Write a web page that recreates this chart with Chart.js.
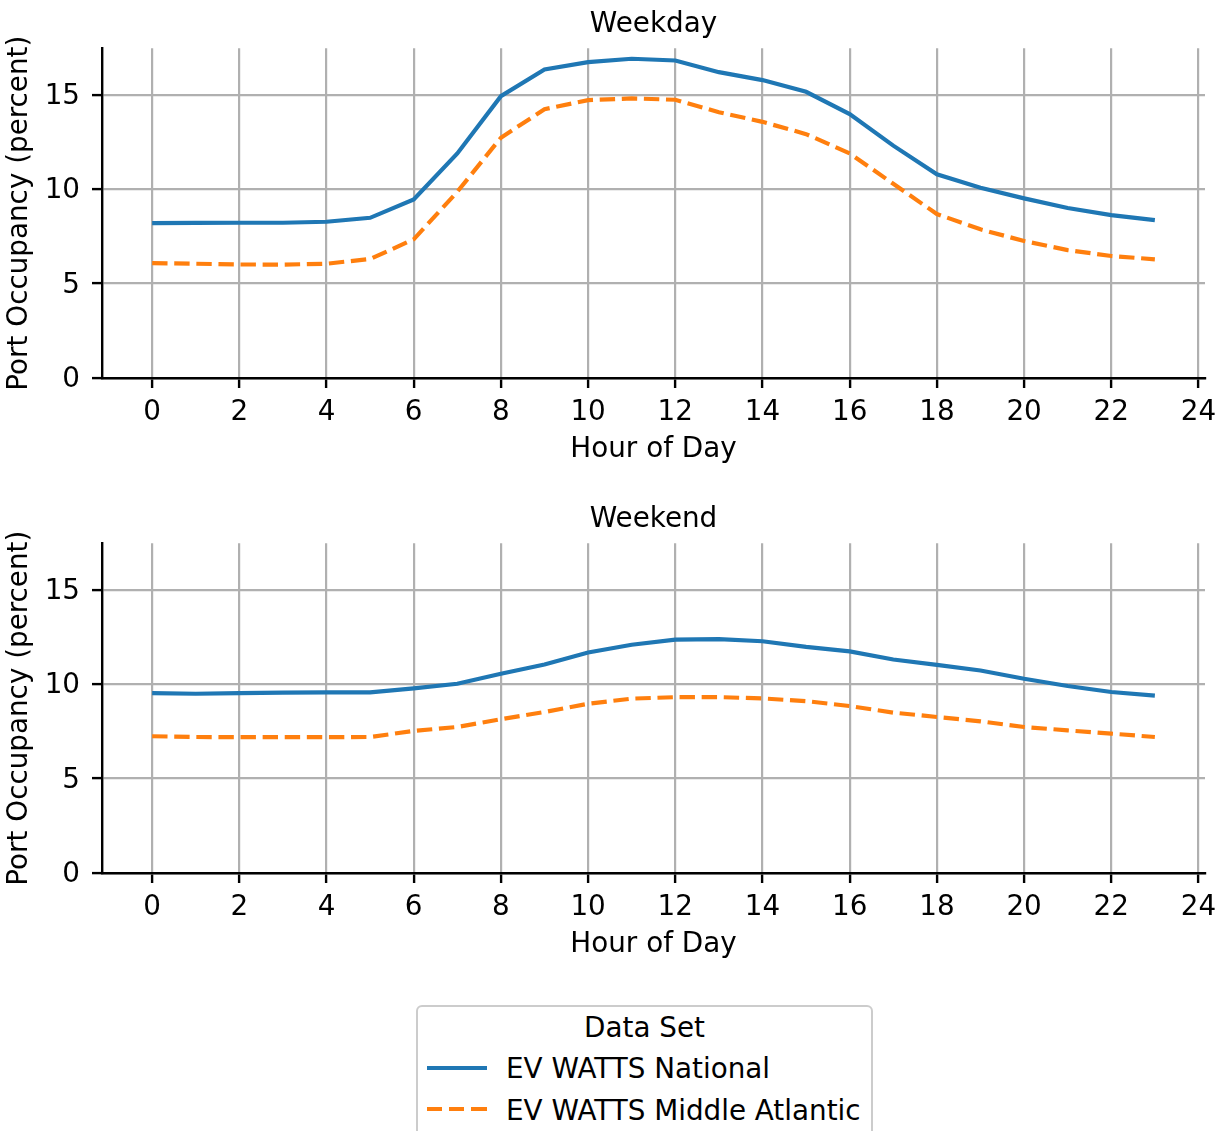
<!DOCTYPE html>
<html>
<head>
<meta charset="utf-8">
<script src="https://cdn.jsdelivr.net/npm/chart.js@4"></script>
<style>
  html, body { margin: 0; padding: 0; background: #fff; overflow: hidden; }
  #page { position: relative; width: 1228px; height: 1131px; overflow: hidden; font-family: "DejaVu Sans", sans-serif; }
  canvas { position: absolute; left: 0; }
  #legend { position: absolute; left: 416px; top: 1005px; width: 453px; height: 160px;
            border: 2px solid #cccccc; border-radius: 6px; background: #fff; box-sizing: content-box; }
  .lt { position: absolute; font-size: 27.8px; line-height: 34px; color: #000; white-space: nowrap; }
  .sample { position: absolute; height: 0; width: 60px; }
</style>
</head>
<body>
<div id="page">
  <canvas id="c1" width="1228" height="495" style="top:0px"></canvas>
  <canvas id="c2" width="1228" height="495" style="top:495px"></canvas>
  <div id="legend"></div>
</div>
<script>
// ---- data ----
const hours = [0,1,2,3,4,5,6,7,8,9,10,11,12,13,14,15,16,17,18,19,20,21,22,23];
const xTicks = [0,2,4,6,8,10,12,14,16,18,20,22,24];
const yTicks = [0,5,10,15];
const seriesNames = ['EV WATTS National', 'EV WATTS Middle Atlantic'];
const panelTitles = ['Weekday', 'Weekend'];
const weekdayNational = [8.20,8.21,8.22,8.22,8.27,8.48,9.45,11.89,14.92,16.33,16.72,16.90,16.81,16.19,15.77,15.15,13.97,12.30,10.78,10.07,9.51,9.00,8.62,8.36];
const weekdayMidAtl   = [6.08,6.05,6.01,6.00,6.05,6.30,7.34,9.86,12.72,14.23,14.71,14.80,14.73,14.07,13.56,12.91,11.89,10.28,8.68,7.87,7.25,6.77,6.46,6.28];
const weekendNational = [9.52,9.49,9.52,9.55,9.56,9.56,9.77,10.02,10.55,11.04,11.67,12.08,12.35,12.38,12.27,11.97,11.73,11.30,11.02,10.72,10.28,9.90,9.58,9.39];
const weekendMidAtl   = [7.24,7.20,7.19,7.19,7.19,7.20,7.52,7.73,8.14,8.52,8.96,9.23,9.31,9.31,9.24,9.10,8.84,8.49,8.26,8.03,7.73,7.55,7.38,7.20];

const BLUE = '#1f77b4', ORANGE = '#ff7f0e';
const FONT = { family: 'DejaVu Sans', size: 27.8, lineHeight: 1.2, weight: 'normal' };
const LW = 4.17;
const DASH = [15.4, 6.7];

function pts(vals) { return hours.map((h, i) => ({ x: h, y: vals[i] })); }

function makeChart(id, title, nat, mid) {
  const gridCommon = { color: '#b0b0b0', lineWidth: 2.2, tickColor: '#000', tickLength: 10, tickWidth: 2.4, drawTicks: true };
  return new Chart(document.getElementById(id), {
    type: 'line',
    data: {
      datasets: [
        { label: seriesNames[0], data: pts(nat), borderColor: BLUE, backgroundColor: BLUE, borderWidth: LW, pointRadius: 0, tension: 0, fill: false },
        { label: seriesNames[1], data: pts(mid), borderColor: ORANGE, backgroundColor: ORANGE, borderWidth: LW, borderDash: DASH, pointRadius: 0, tension: 0, fill: false }
      ]
    },
    options: {
      responsive: false,
      animation: false,
      devicePixelRatio: 1,
      layout: { padding: { left: 0, right: 23, top: 0, bottom: 0 } },
      plugins: {
        legend: { display: false },
        tooltip: { enabled: false },
        title: { display: true, text: title, color: '#000', font: FONT, padding: { top: 8, bottom: 7 }, fullSize: false }
      },
      scales: {
        x: {
          type: 'linear', min: -1.15, max: 24.15,
          afterBuildTicks: s => { s.ticks = xTicks.map(v => ({ value: v })); },
          afterFit: s => { s.height = 117; },
          ticks: { color: '#000', font: FONT, padding: 8, maxRotation: 0, autoSkip: false, callback: v => String(v) },
          grid: gridCommon,
          border: { display: true, color: '#000', width: 2.4 },
          title: { display: true, text: 'Hour of Day', color: '#000', font: FONT, padding: { top: 0, bottom: 29 } }
        },
        y: {
          type: 'linear', min: 0, max: 17.45,
          afterBuildTicks: s => { s.ticks = yTicks.map(v => ({ value: v })); },
          afterFit: s => { s.width = 102; },
          ticks: { color: '#000', font: FONT, padding: 12, labelOffset: 2, callback: v => String(v) },
          grid: gridCommon,
          border: { display: true, color: '#000', width: 2.4 },
          title: { display: true, text: 'Port Occupancy (percent)', color: '#000', font: FONT, padding: { top: 3, bottom: 0 } }
        }
      }
    }
  });
}

makeChart('c1', panelTitles[0], weekdayNational, weekdayMidAtl);
makeChart('c2', panelTitles[1], weekendNational, weekendMidAtl);

// ---- legend (HTML, real text) ----
const legend = document.getElementById('legend');
function addText(txt, left, top, center) {
  const s = document.createElement('div');
  s.className = 'lt';
  s.textContent = txt;
  s.style.top = top + 'px';
  if (center) { s.style.left = '0'; s.style.width = '100%'; s.style.textAlign = 'center'; }
  else s.style.left = left + 'px';
  legend.appendChild(s);
}
function addSample(color, dashed, top) {
  const d = document.createElement('div');
  d.className = 'sample';
  d.style.left = '9px';
  d.style.top = (top - 2) + 'px';
  d.style.height = LW + 'px';
  if (dashed) {
    d.style.backgroundImage = `repeating-linear-gradient(to right, ${color} 0 ${DASH[0]}px, transparent ${DASH[0]}px ${DASH[0] + DASH[1]}px)`;
  } else {
    d.style.background = color;
  }
  legend.appendChild(d);
}
// coordinates relative to legend inner box (left 418, top 1007)
addText('Data Set', 0, 1010.5 - 1007, true);
addSample(BLUE, false, 1068 - 1007);
addText(seriesNames[0], 506 - 418, 1052.2 - 1007, false);
addSample(ORANGE, true, 1109 - 1007);
addText(seriesNames[1], 506 - 418, 1093.5 - 1007, false);
</script>
</body>
</html>
